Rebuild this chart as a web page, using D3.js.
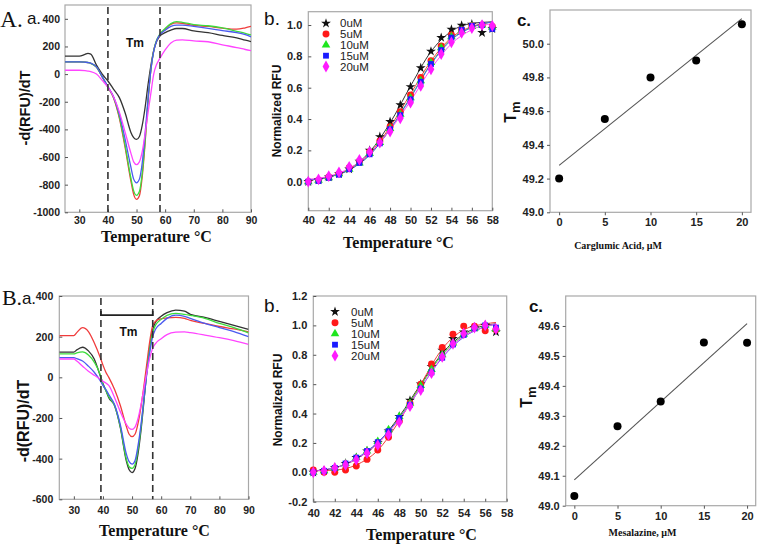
<!DOCTYPE html>
<html>
<head>
<meta charset="utf-8">
<script src="https://cdn.jsdelivr.net/npm/d3@7"></script>
<style>
  body { margin: 0; background: #fff; }
  svg text { font-family: "Liberation Sans", Arial, sans-serif; }
  .tick text { font-weight: bold; font-size: 11px; fill: #222; }
  .deriv .tick text { font-size: 10.5px; }
  .tick line { stroke: #555; }
  .serif { font-family: "Liberation Serif", "Times New Roman", serif; font-weight: bold; }
  .roman { font-family: "Liberation Serif", "Times New Roman", serif; }
</style>
</head>
<body>
<svg id="fig" width="759" height="549"></svg>
<script>
// ---- shared ----
const concLabels = ["0uM", "5uM", "10uM", "15uM", "20uM"];
const lineColors = ["#333333", "#f03c3c", "#3cdc3c", "#4a5af0", "#ff44ff"];
const markColors = ["#111111", "#ff1a1a", "#1ee61e", "#1a1aff", "#ff1aff"];

// ---- A.a : -d(RFU)/dT, carglumic acid ----
const aaTemps = [25,30,32,33,34,36,38,40,42,44,46,48,49,50,51,52,53,54,55,56,57,58,60,62,64,66,70,75,80,85,88,90];
const aa0uM  = [130,130,143,150,145,65,0,-50,-110,-170,-280,-420,-460,-473,-452,-370,-240,-80,60,170,235,272,300,318,330,330,312,300,280,262,245,235];
const aa5uM  = [88,88,86,83,78,50,-20,-95,-175,-320,-530,-770,-870,-906,-880,-740,-500,-200,30,170,240,280,325,360,370,368,352,345,332,325,335,345];
const aa10uM = [88,88,86,84,78,50,-20,-95,-170,-310,-515,-750,-845,-877,-850,-715,-480,-195,30,170,245,285,330,365,379,375,358,350,335,310,295,283];
const aa15uM = [88,88,86,84,80,52,-18,-90,-165,-290,-470,-670,-760,-787,-760,-640,-430,-180,30,165,240,280,318,345,355,355,345,331,315,300,285,270];
const aa20uM = [28,28,25,22,18,0,-45,-95,-165,-275,-420,-570,-635,-655,-635,-560,-430,-280,-140,0,70,108,175,225,246,248,240,234,212,192,178,170];
const aaTmRange = [40, 58.2];

// ---- B.a : -d(RFU)/dT, mesalazine ----
const baTemps = [25,30,31,33,35,37,39,40,41,42,44,46,48,49,50,51,52,53,54,55,56,57,58,60,62,65,68,70,75,80,85,90];
const ba0uM  = [124,124,135,148,130,90,10,-30,-65,-100,-140,-250,-410,-455,-469,-450,-380,-270,-130,20,140,230,270,300,318,331,325,310,295,275,255,236];
const ba5uM  = [205,205,220,244,225,170,100,60,25,0,-60,-140,-240,-280,-292,-280,-230,-150,-50,60,170,250,275,288,292,295,290,280,265,250,238,224];
const ba10uM = [115,115,120,125,110,75,15,-35,-65,-95,-140,-245,-400,-440,-448,-430,-360,-255,-120,20,130,215,255,285,305,315,310,305,290,265,245,219];
const ba15uM = [97,97,92,80,55,25,-15,-40,-60,-85,-135,-235,-375,-415,-427,-410,-340,-240,-115,10,115,195,235,265,290,306,300,290,265,245,225,200];
const ba20uM = [90,90,80,55,30,10,-8,-20,-28,-40,-100,-170,-230,-250,-256,-245,-205,-140,-60,20,90,140,165,190,210,222,224,220,208,195,180,162];
const baTmRange = [39.3, 57.1];

// ---- A.b : normalized RFU, carglumic acid ----
const abTemps = [40,41,42,43,44,45,46,47,48,49,50,51,52,53,54,55,56,57,58];
const ab0uM  = [0.0,0.01,0.03,0.05,0.08,0.13,0.20,0.287,0.383,0.49,0.606,0.726,0.832,0.92,0.972,0.998,1.005,0.951,0.975];
const ab5uM  = [0.0,0.01,0.03,0.05,0.09,0.13,0.19,0.26,0.351,0.447,0.553,0.666,0.772,0.866,0.936,0.97,0.995,1.0,0.99];
const ab10uM = [0.0,0.01,0.025,0.05,0.08,0.12,0.18,0.25,0.34,0.43,0.535,0.645,0.76,0.855,0.925,0.965,0.99,1.0,0.985];
const ab15uM = [0.0,0.005,0.025,0.045,0.08,0.12,0.175,0.245,0.335,0.425,0.526,0.638,0.751,0.84,0.92,0.97,0.995,1.0,0.975];
const ab20uM = [0.0,0.015,0.035,0.06,0.095,0.14,0.19,0.25,0.32,0.405,0.504,0.611,0.717,0.815,0.89,0.95,0.98,1.0,0.995];
const abFitTemps = [40,42,44,46,48,50,52,54,56,58];
const abFit0uM  = [0.01,0.03,0.08,0.19,0.375,0.61,0.83,0.96,1.01,1.02];
const abFit5uM  = [0.01,0.03,0.08,0.18,0.35,0.56,0.77,0.92,0.99,1.02];
const abFit10uM = [0.01,0.03,0.075,0.17,0.335,0.54,0.755,0.91,0.985,1.02];
const abFit15uM = [0.01,0.03,0.075,0.17,0.335,0.535,0.75,0.905,0.985,1.02];
const abFit20uM = [0.015,0.035,0.085,0.18,0.33,0.515,0.72,0.88,0.97,1.01];

// ---- B.b : normalized RFU, mesalazine ----
const bbTemps = [40,41,42,43,44,45,46,47,48,49,50,51,52,53,54,55,56,57];
const bb0uM  = [0.0,0.01,0.03,0.06,0.10,0.145,0.20,0.28,0.38,0.49,0.60,0.72,0.83,0.91,0.955,0.985,1.0,0.955];
const bb5uM  = [0.016,0.0,0.0,0.016,0.043,0.088,0.152,0.238,0.347,0.47,0.60,0.737,0.85,0.94,0.995,0.995,0.963,0.97];
const bb10uM = [0.0,0.01,0.03,0.06,0.10,0.145,0.21,0.29,0.38,0.47,0.59,0.70,0.80,0.88,0.94,0.98,1.0,0.975];
const bb15uM = [0.0,0.01,0.03,0.06,0.10,0.145,0.205,0.28,0.37,0.46,0.57,0.68,0.78,0.87,0.935,0.98,1.0,0.985];
const bb20uM = [0.0,0.01,0.03,0.05,0.085,0.13,0.185,0.255,0.34,0.45,0.56,0.675,0.785,0.875,0.945,0.985,1.0,0.975];
const bbFitTemps = [40,42,44,46,48,50,52,54,56,57];
const bbFit0uM  = [0.01,0.03,0.09,0.2,0.38,0.6,0.81,0.94,1.0,1.01];
const bbFit5uM  = [0.01,0.015,0.05,0.15,0.35,0.6,0.84,0.97,1.01,1.02];
const bbFit10uM = [0.01,0.03,0.09,0.2,0.37,0.59,0.8,0.93,0.99,1.01];
const bbFit15uM = [0.01,0.03,0.095,0.205,0.365,0.575,0.78,0.92,0.99,1.01];
const bbFit20uM = [0.01,0.03,0.09,0.195,0.36,0.575,0.785,0.925,0.99,1.01];

// ---- c panels : Tm vs concentration ----
const cConc = [0, 5, 10, 15, 20];
const acTm = [49.2, 49.553, 49.8, 49.9, 50.115];
const bcTm = [49.032, 49.265, 49.348, 49.545, 49.544];

const svg = d3.select('#fig');
const minus = s => String(s).replace('\u2212', '-');

function panel(box, xDom, yDom, xTicks, yTicks, opt) {
  const x = d3.scaleLinear().domain(xDom).range([box.x0, box.x1]);
  const y = d3.scaleLinear().domain(yDom).range([box.y1, box.y0]);
  const g = svg.append('g').attr('class', opt.cls || null);
  g.append('rect')
    .attr('x', box.x0).attr('y', box.y0)
    .attr('width', box.x1 - box.x0).attr('height', box.y1 - box.y0)
    .attr('fill', 'none').attr('stroke', '#a8a8a8').attr('stroke-width', 1.2);
  const tick = opt.inside ? -3 : 3;
  g.append('g')
    .attr('transform', `translate(0,${box.y1})`)
    .call(d3.axisBottom(x).tickValues(xTicks).tickSizeInner(tick).tickSizeOuter(0)
      .tickPadding(opt.xPad).tickFormat(opt.xFmt))
    .call(a => a.select('.domain').remove());
  g.append('g')
    .attr('transform', `translate(${box.x0},0)`)
    .call(d3.axisLeft(y).tickValues(yTicks).tickSizeInner(tick).tickSizeOuter(0)
      .tickPadding(opt.yPad).tickFormat(opt.yFmt))
    .call(a => a.select('.domain').remove());
  const clipId = 'clip' + Math.round(box.x0) + Math.round(box.y0);
  svg.append('clipPath').attr('id', clipId).append('rect')
    .attr('x', box.x0).attr('y', box.y0)
    .attr('width', box.x1 - box.x0).attr('height', box.y1 - box.y0);
  const plot = g.append('g').attr('clip-path', `url(#${clipId})`);
  return { g, plot, x, y };
}

function label(x, y, txt, size, cls, rotate, weight) {
  const t = svg.append('text')
    .attr('x', x).attr('y', y)
    .attr('font-size', size)
    .attr('text-anchor', 'middle')
    .attr('font-weight', weight || 'normal')
    .attr('fill', '#111')
    .text(txt);
  if (cls) t.attr('class', cls);
  if (rotate) t.attr('transform', `rotate(-90,${x},${y})`);
  return t;
}

// ---------- melt-curve derivative panels ----------
function derivPanel(box, yDom, yTicks, temps, series, tmRange, xPad, yPad, bracket) {
  const p = panel(box, [25, 90], yDom, [30,40,50,60,70,80,90], yTicks,
    { inside: true, xPad, yPad, cls: 'deriv', xFmt: d => d, yFmt: d => minus(d) });
  const line = d3.line().curve(d3.curveMonotoneX)
    .x((d, i) => p.x(temps[i])).y(d => p.y(d));
  series.forEach((s, i) => {
    p.plot.append('path').datum(s)
      .attr('d', line).attr('fill', 'none')
      .attr('stroke', lineColors[i]).attr('stroke-width', 1.3);
  });
  tmRange.forEach(t => {
    p.g.append('line')
      .attr('x1', p.x(t)).attr('x2', p.x(t))
      .attr('y1', box.y0 + 2).attr('y2', box.y1)
      .attr('stroke', '#333').attr('stroke-width', 1.6)
      .attr('stroke-dasharray', '7,4');
  });
  if (bracket) {
    const by = p.y(bracket);
    p.g.append('path')
      .attr('d', `M${p.x(tmRange[0])},${by - 4}V${by}H${p.x(tmRange[1])}V${by - 4}`)
      .attr('fill', 'none').attr('stroke', '#222').attr('stroke-width', 1.6);
  }
  return p;
}

derivPanel({ x0: 65, x1: 251, y0: 5, y1: 212.3 }, [-1000, 500],
  [-1000,-800,-600,-400,-200,0,200,400],
  aaTemps, [aa0uM, aa5uM, aa10uM, aa15uM, aa20uM], aaTmRange, 4, 5, null);
derivPanel({ x0: 59.3, x1: 248.5, y0: 296, y1: 499.3 }, [-600, 400],
  [-600,-400,-200,0,200,400],
  baTemps, [ba0uM, ba5uM, ba10uM, ba15uM, ba20uM], baTmRange, 7, 6, 306);

// ---------- normalized RFU panels ----------
const symbolTypes = [d3.symbolStar, d3.symbolCircle, d3.symbolTriangle, d3.symbolSquare, d3.symbolDiamond];
const symbolSizes = [30, 38, 32, 34, 40];

function rfuPanel(box, yDom, yTicks, temps, series, fitTemps, fits, xPad, yPad, legend) {
  const p = panel(box, [40, 58], yDom, [40,42,44,46,48,50,52,54,56,58], yTicks,
    { inside: true, xPad, yPad, xFmt: d => d, yFmt: d => minus(d3.format('.1f')(d)) });
  const fitLine = d3.line().curve(d3.curveMonotoneX)
    .x((d, i) => p.x(fitTemps[i])).y(d => p.y(d));
  fits.forEach((f, i) => {
    p.plot.append('path').datum(f)
      .attr('d', fitLine).attr('fill', 'none')
      .attr('stroke', lineColors[i]).attr('stroke-width', 1);
  });
  series.forEach((s, i) => {
    p.g.append('g').selectAll('path')
      .data(s)
      .join('path')
      .attr('transform', (d, j) => `translate(${p.x(temps[j])},${p.y(d)})`)
      .attr('d', d3.symbol().type(symbolTypes[i]).size(symbolSizes[i]))
      .attr('fill', markColors[i]);
  });
  // legend
  concLabels.forEach((c, i) => {
    const ly = legend.y + i * legend.dy;
    p.g.append('path')
      .attr('transform', `translate(${legend.x},${ly})`)
      .attr('d', d3.symbol().type(symbolTypes[i]).size(symbolSizes[i]))
      .attr('fill', markColors[i]);
    p.g.append('text')
      .attr('x', legend.x + legend.gap).attr('y', ly + 4)
      .attr('font-size', 11.5).attr('fill', '#222')
      .text(c);
  });
  return p;
}

rfuPanel({ x0: 308.3, x1: 492.3, y0: 11.7, y1: 210.7 }, [-0.185, 1.085],
  [0, 0.2, 0.4, 0.6, 0.8, 1.0], abTemps, [ab0uM, ab5uM, ab10uM, ab15uM, ab20uM],
  abFitTemps, [abFit0uM, abFit5uM, abFit10uM, abFit15uM, abFit20uM], 6, 6,
  { x: 326, y: 23.3, dy: 10.8, gap: 14 });
rfuPanel({ x0: 313.3, x1: 506.7, y0: 296, y1: 501.7 }, [-0.2, 1.2],
  [-0.2, 0, 0.2, 0.4, 0.6, 0.8, 1.0, 1.2], bbTemps, [bb0uM, bb5uM, bb10uM, bb15uM, bb20uM],
  bbFitTemps, [bbFit0uM, bbFit5uM, bbFit10uM, bbFit15uM, bbFit20uM], 8, 6,
  { x: 335, y: 311.7, dy: 11, gap: 16 });

// ---------- Tm vs concentration panels ----------
function tmPanel(box, yDom, yTicks, tm, xPad, yPad) {
  const p = panel(box, [-1, 21], yDom, [0, 5, 10, 15, 20], yTicks,
    { inside: false, xPad, yPad, xFmt: d => d, yFmt: d3.format('.1f') });
  // least-squares line through the points
  const mx = d3.mean(cConc), my = d3.mean(tm);
  const slope = d3.sum(cConc, (c, i) => (c - mx) * (tm[i] - my)) / d3.sum(cConc, c => (c - mx) ** 2);
  const ends = [cConc[0], cConc[cConc.length - 1]];
  p.g.append('line')
    .attr('x1', p.x(ends[0])).attr('y1', p.y(my + slope * (ends[0] - mx)))
    .attr('x2', p.x(ends[1])).attr('y2', p.y(my + slope * (ends[1] - mx)))
    .attr('stroke', '#555').attr('stroke-width', 1.1);
  p.g.selectAll('circle.pt').data(tm).join('circle')
    .attr('class', 'pt')
    .attr('cx', (d, i) => p.x(cConc[i])).attr('cy', d => p.y(d))
    .attr('r', 4).attr('fill', '#000');
  return p;
}

tmPanel({ x0: 550, x1: 751, y0: 10, y1: 212.3 }, [49.0, 50.2],
  [49.0, 49.2, 49.4, 49.6, 49.8, 50.0], acTm, 3, 3);
tmPanel({ x0: 565.7, x1: 755.7, y0: 296, y1: 505.7 }, [49.0, 49.7],
  [49.0, 49.1, 49.2, 49.3, 49.4, 49.5, 49.6], bcTm, 4, 3);

// ---------- titles & axis labels ----------
label(11.5, 27, 'A.', 23, 'roman');
label(34, 24, 'a.', 17);
label(12, 305, 'B.', 22, 'roman');
label(29, 304, 'a.', 17);
label(272, 25, 'b.', 19);
label(272, 312, 'b.', 19);
label(524, 26, 'c.', 17, null, false, 'bold');
label(536, 312, 'c.', 17, null, false, 'bold');

label(135, 47, 'Tm', 12, null, false, 'bold');
label(128.5, 336, 'Tm', 12, null, false, 'bold');

label(156.5, 242, 'Temperature \u00b0C', 16, 'serif');
label(154.5, 536, 'Temperature \u00b0C', 16, 'serif');
label(398.5, 248, 'Temperature \u00b0C', 16, 'serif');
label(421.5, 540, 'Temperature \u00b0C', 16, 'serif');
label(618, 249, 'Carglumic Acid, \u00b5M', 10, 'serif');
label(642.5, 536, 'Mesalazine, \u00b5M', 10, 'serif');

label(30, 108, '-d(RFU)/dT', 14.5, null, true, 'bold');
label(29, 421, '-d(RFU)/dT', 16, null, true, 'bold');
label(281, 111, 'Normalized RFU', 12, null, true, 'bold');
label(282, 400, 'Normalized RFU', 12, null, true, 'bold');

function tmLabel(x, y) {
  const t = label(x, y, 'T', 16, null, true, 'bold');
  t.append('tspan').attr('font-size', 13).attr('dy', 4).text('m');
}
tmLabel(516, 112);
tmLabel(532, 397);
</script>
</body>
</html>
